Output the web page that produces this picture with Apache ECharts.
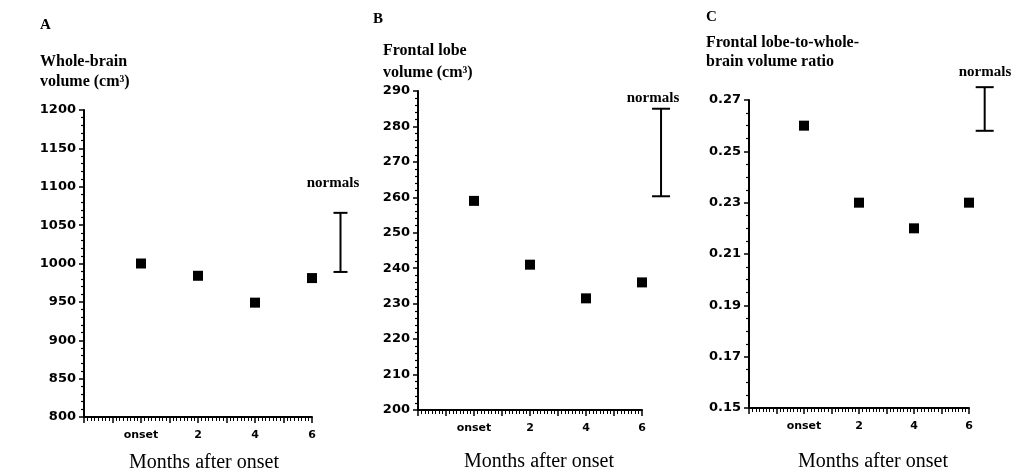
<!DOCTYPE html>
<html>
<head>
<meta charset="utf-8">
<script src="https://cdn.jsdelivr.net/npm/echarts@6/dist/echarts.min.js"></script>
<style>
html, body { margin: 0; padding: 0; background: #fff; }
#chart { width: 1016px; height: 473px; }
</style>
</head>
<body>
<div id="chart"></div>
<script>
// values
var months = [0, 2, 4, 6];
var wholeBrain = [1000, 984, 949, 981];
var frontalLobe = [259, 241, 231.5, 236];
var lobeRatio = [0.26, 0.23, 0.22, 0.23];
// normals range: [month position, low, high]
var normalsWhole = [7.0, 989, 1066];
var normalsFrontal = [6.68, 260.3, 285];
var normalsRatio = [6.57, 0.258, 0.275];
var xTickLabels = { 0: 'onset', 2: '2', 4: '4', 6: '6' };

var ink = '#000';
var serif = 'Liberation Serif, Times New Roman, serif';
var sans = 'DejaVu Sans, sans-serif';

function pairs(xs, ys) {
    return xs.map(function(x, i) { return [x, ys[i]]; });
}

function xAxisOf(idx) {
    return {
        type: 'value', gridIndex: idx, min: -2, max: 6, interval: 1,
        axisLine: { show: true, onZero: false, lineStyle: { color: ink, width: 2 } },
        axisTick: { show: true, length: 6, lineStyle: { color: ink, width: 1.5 } },
        minorTick: { show: true, splitNumber: 8, length: 4, lineStyle: { color: ink, width: 1 } },
        axisLabel: {
            margin: 13, color: ink, fontFamily: sans, fontWeight: 'bold', fontSize: 11,
            formatter: function(v) { return xTickLabels[v] || ''; }
        },
        splitLine: { show: false }
    };
}

function yAxisOf(idx, min, max, step, minor, digits) {
    return {
        type: 'value', gridIndex: idx, min: min, max: max, interval: step,
        axisLine: { show: true, onZero: false, lineStyle: { color: ink, width: 2 } },
        axisTick: { show: true, length: 5, lineStyle: { color: ink, width: 1.5 } },
        minorTick: { show: true, splitNumber: minor, length: 3, lineStyle: { color: ink, width: 1.2 } },
        axisLabel: {
            margin: 8, color: ink, fontFamily: sans, fontWeight: 'bold', fontSize: 13,
            formatter: function(v) { return v.toFixed(digits); }
        },
        splitLine: { show: false }
    };
}

function points(idx, ys) {
    return {
        type: 'scatter', xAxisIndex: idx, yAxisIndex: idx,
        symbol: 'rect', symbolSize: 10,
        itemStyle: { color: ink, opacity: 1 },
        data: pairs(months, ys)
    };
}

function normalsBar(idx, bar, half) {
    return {
        type: 'custom', xAxisIndex: idx, yAxisIndex: idx, clip: false, silent: true,
        data: [bar],
        renderItem: function(params, api) {
            var top = api.coord([api.value(0), api.value(2)]);
            var bot = api.coord([api.value(0), api.value(1)]);
            var st = { stroke: ink, lineWidth: 2 };
            return {
                type: 'group',
                children: [
                    { type: 'line', shape: { x1: top[0], y1: top[1], x2: bot[0], y2: bot[1] }, style: st },
                    { type: 'line', shape: { x1: top[0] - half, y1: top[1], x2: top[0] + half, y2: top[1] }, style: st },
                    { type: 'line', shape: { x1: bot[0] - half, y1: bot[1], x2: bot[0] + half, y2: bot[1] }, style: st }
                ]
            };
        }
    };
}

function txt(x, y, s, size, weight, align, vAlign, lh) {
    return {
        type: 'text', x: x, y: y, silent: true,
        style: {
            text: s, fill: ink, fontFamily: serif, fontSize: size, fontWeight: weight,
            textAlign: align, textVerticalAlign: vAlign, lineHeight: lh || size
        }
    };
}

var chart = echarts.init(document.getElementById('chart'));
chart.setOption({
    animation: false,
    backgroundColor: '#fff',
    grid: [
        { left: 84, top: 110, width: 228, height: 307, outerBoundsMode: 'none' },
        { left: 418, top: 91, width: 224, height: 319, outerBoundsMode: 'none' },
        { left: 749, top: 100, width: 220, height: 308, outerBoundsMode: 'none' }
    ],
    xAxis: [xAxisOf(0), xAxisOf(1), xAxisOf(2)],
    yAxis: [
        yAxisOf(0, 800, 1200, 50, 5, 0),
        yAxisOf(1, 200, 290, 10, 5, 0),
        yAxisOf(2, 0.15, 0.27, 0.02, 4, 2)
    ],
    series: [
        points(0, wholeBrain),
        points(1, frontalLobe),
        points(2, lobeRatio),
        normalsBar(0, normalsWhole, 7),
        normalsBar(1, normalsFrontal, 9),
        normalsBar(2, normalsRatio, 9)
    ],
    graphic: [
        txt(40, 25, 'A', 15, 'bold', 'left', 'middle'),
        txt(40, 52, 'Whole-brain\nvolume (cm³)', 16, 'bold', 'left', 'top', 20),
        txt(373, 19, 'B', 15, 'bold', 'left', 'middle'),
        txt(383, 40, 'Frontal lobe\nvolume (cm³)', 16, 'bold', 'left', 'top', 22),
        txt(706, 17, 'C', 15, 'bold', 'left', 'middle'),
        txt(706, 33, 'Frontal lobe-to-whole-\nbrain volume ratio', 16, 'bold', 'left', 'top', 19),
        txt(333, 183, 'normals', 15, 'bold', 'center', 'middle'),
        txt(653, 98, 'normals', 15, 'bold', 'center', 'middle'),
        txt(985, 72, 'normals', 15, 'bold', 'center', 'middle'),
        txt(204, 463, 'Months after onset', 20, 'normal', 'center', 'middle'),
        txt(539, 462, 'Months after onset', 20, 'normal', 'center', 'middle'),
        txt(873, 462, 'Months after onset', 20, 'normal', 'center', 'middle')
    ]
});
</script>
</body>
</html>
